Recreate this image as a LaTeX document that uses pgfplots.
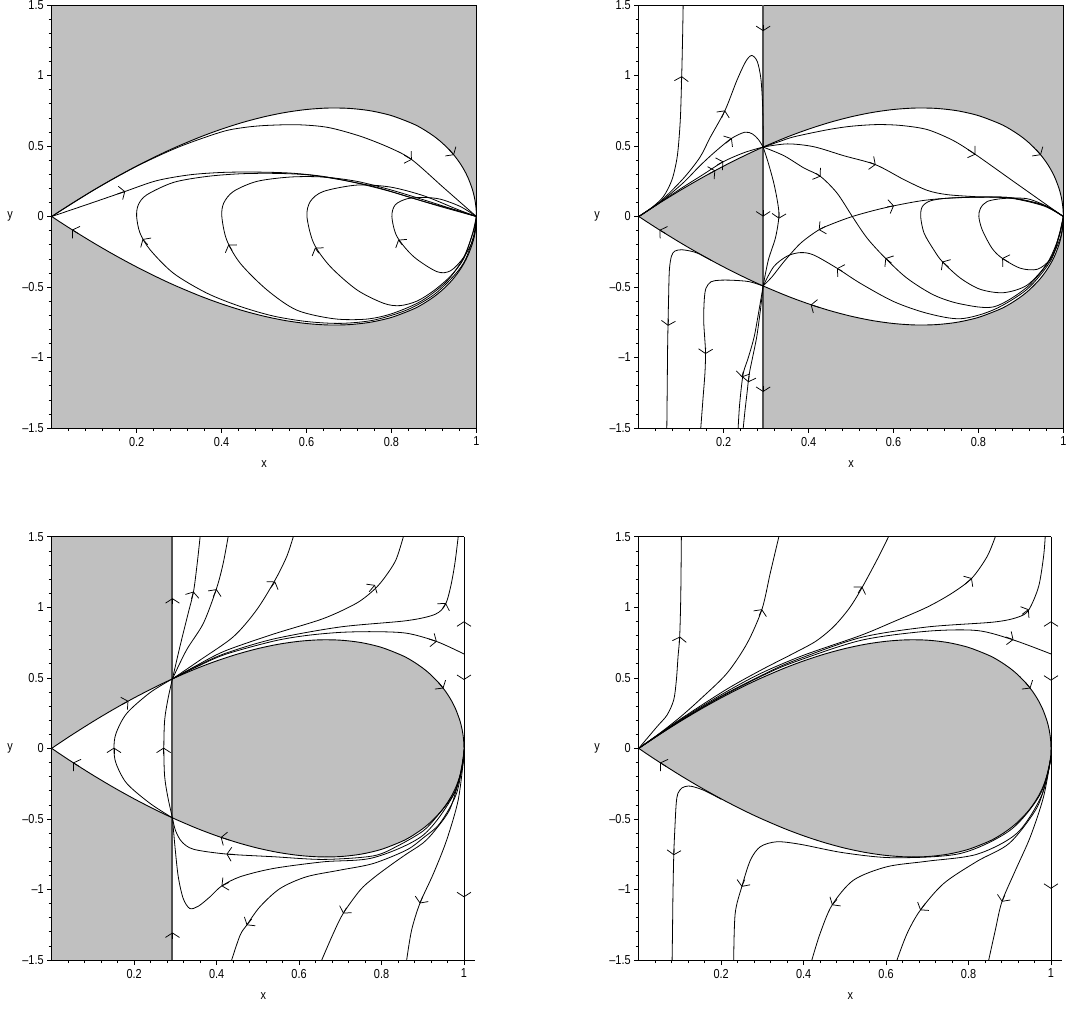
\documentclass[border=0pt]{standalone}
\usepackage{fontspec}
\setmainfont{Liberation Sans}[FakeStretch=0.84]
\usepackage{pgfplots}
\pgfplotsset{compat=1.18}
\usepackage{pgfplotstable}
\usetikzlibrary{arrows.meta}
\definecolor{mgray}{RGB}{192,192,192}
\definecolor{vgray}{RGB}{80,80,80}

\pgfplotstableread{
x y
0 0
0.01 0.0199
0.02 0.0396
0.05 0.0975
0.1 0.1897
0.15 0.2766
0.2 0.3578
0.25 0.4330
0.2929 0.4926
0.35 0.5644
0.4 0.6197
0.45 0.6675
0.5 0.7071
0.55 0.7379
0.6 0.7589
0.65 0.7691
0.7 0.7668
0.75 0.75
0.8 0.7155
0.85 0.6584
0.875 0.6187
0.9 0.5692
0.92 0.5204
0.94 0.4605
0.95 0.4249
0.96 0.384
0.97 0.336
0.98 0.2772
0.99 0.198
0.995 0.1407
0.998 0.0893
0.9995 0.0447
1 0
}\tdup

\pgfplotstableread{
x y
0 0
0.01 -0.0199
0.02 -0.0396
0.05 -0.0975
0.1 -0.1897
0.15 -0.2766
0.2 -0.3578
0.25 -0.4330
0.2929 -0.4926
0.35 -0.5644
0.4 -0.6197
0.45 -0.6675
0.5 -0.7071
0.55 -0.7379
0.6 -0.7589
0.65 -0.7691
0.7 -0.7668
0.75 -0.75
0.8 -0.7155
0.85 -0.6584
0.875 -0.6187
0.9 -0.5692
0.92 -0.5204
0.94 -0.4605
0.95 -0.4249
0.96 -0.384
0.97 -0.336
0.98 -0.2772
0.99 -0.198
0.995 -0.1407
0.998 -0.0893
0.9995 -0.0447
1 0
}\tdlo

\pgfplotstableread{
x y
0 0
0.02 0.0396
0.05 0.0975
0.1 0.1897
0.15 0.2766
0.2 0.3578
0.25 0.4330
0.2929 0.4926
0.35 0.5644
0.4 0.6197
0.45 0.6675
0.5 0.7071
0.55 0.7379
0.6 0.7589
0.65 0.7691
0.7 0.7668
0.75 0.75
0.8 0.7155
0.85 0.6584
0.875 0.6187
0.9 0.5692
0.92 0.5204
0.94 0.4605
0.95 0.4249
0.96 0.384
0.97 0.336
0.98 0.2772
0.99 0.198
0.995 0.1407
0.998 0.0893
0.9995 0.0447
1 0
0.9995 -0.0447
0.998 -0.0893
0.995 -0.1407
0.99 -0.198
0.98 -0.2772
0.97 -0.336
0.96 -0.384
0.95 -0.4249
0.94 -0.4605
0.92 -0.5204
0.9 -0.5692
0.875 -0.6187
0.85 -0.6584
0.8 -0.7155
0.75 -0.75
0.7 -0.7668
0.65 -0.7691
0.6 -0.7589
0.55 -0.7379
0.5 -0.7071
0.45 -0.6675
0.4 -0.6197
0.35 -0.5644
0.2929 -0.4926
0.25 -0.4330
0.2 -0.3578
0.15 -0.2766
0.1 -0.1897
0.05 -0.0975
0.02 -0.0396
}\tdloop

\pgfplotstableread{
x y
0 0
0.02 0.0396
0.05 0.0975
0.1 0.1897
0.15 0.2766
0.2 0.3578
0.25 0.4330
0.2929 0.4926
0.2929 -0.4926
0.25 -0.4330
0.2 -0.3578
0.15 -0.2766
0.1 -0.1897
0.05 -0.0975
0.02 -0.0396
}\tdleft

\pgfplotstableread{
x y
0.2929 0.4926
0.35 0.5644
0.4 0.6197
0.45 0.6675
0.5 0.7071
0.55 0.7379
0.6 0.7589
0.65 0.7691
0.7 0.7668
0.75 0.75
0.8 0.7155
0.85 0.6584
0.875 0.6187
0.9 0.5692
0.92 0.5204
0.94 0.4605
0.95 0.4249
0.96 0.384
0.97 0.336
0.98 0.2772
0.99 0.198
0.995 0.1407
0.998 0.0893
0.9995 0.0447
1 0
0.9995 -0.0447
0.998 -0.0893
0.995 -0.1407
0.99 -0.198
0.98 -0.2772
0.97 -0.336
0.96 -0.384
0.95 -0.4249
0.94 -0.4605
0.92 -0.5204
0.9 -0.5692
0.875 -0.6187
0.85 -0.6584
0.8 -0.7155
0.75 -0.75
0.7 -0.7668
0.65 -0.7691
0.6 -0.7589
0.55 -0.7379
0.5 -0.7071
0.45 -0.6675
0.4 -0.6197
0.35 -0.5644
0.2929 -0.4926
}\tdright

\pgfplotsset{
  panel/.style={
    scale only axis, clip=false,
    ymin=-1.5, ymax=1.5,
    axis x line*=bottom, axis y line*=left,
    axis line style={black, line width=0.7pt},
    xtick={0.2,0.4,0.6,0.8,1}, xticklabels={0.2,0.4,0.6,0.8,1},
    ytick={-1.5,-1,-0.5,0,0.5,1,1.5}, yticklabels={–1.5,–1,–0.5,0,0.5,1,1.5},
    minor xtick={0.04,0.08,0.12,0.16,0.24,0.28,0.32,0.36,0.44,0.48,0.52,0.56,0.64,0.68,0.72,0.76,0.84,0.88,0.92,0.96},
    minor ytick={-1.4,-1.3,-1.2,-1.1,-0.9,-0.8,-0.7,-0.6,-0.4,-0.3,-0.2,-0.1,0.1,0.2,0.3,0.4,0.6,0.7,0.8,0.9,1.1,1.2,1.3,1.4},
    tick align=outside, major tick length=4.5pt, minor tick length=3pt,
    tick style={black, line width=0.6pt},
    tick label style={font=\fontsize{13}{15}\selectfont},
    xticklabel style={yshift=-1pt},
  },
  tr/.style={black, line width=0.8pt, smooth},
  bd/.style={black, line width=0.9pt, smooth},
  ar/.style={black, line width=0.75pt, -{Straight Barb[length=4.5pt, width=14pt]}},
  vl/.style={vgray, line width=2pt},
}

\newcommand{\labs}{%
  \node[font=\fontsize{13}{15}\selectfont] at (axis description cs:0.5,-0.085) {x};
  \node[font=\fontsize{13}{15}\selectfont] at (axis description cs:-0.098,0.5) {y};
}

\begin{document}
\begin{tikzpicture}
\useasboundingbox (0pt,0pt) rectangle (1067pt,-1009pt);

% ================= Panel 1 =================
\begin{axis}[panel, at={(51.7pt,-428pt)}, anchor=south west, width=424.7pt, height=423pt, xmin=0, xmax=1]
\addplot[fill=mgray, draw=none] coordinates {(0,-1.5)(1,-1.5)(1,1.5)(0,1.5)};
\addplot[fill=white, draw=none] table {\tdloop};
\addplot[black, line width=0.7pt] coordinates {(0,1.5)(1,1.5)(1,-1.5)};
\addplot[bd] table {\tdup};
\addplot[bd] table {\tdlo};
% A
\addplot[tr] coordinates {(0,0)(0.1,0.189)(0.2,0.356)(0.3,0.494)(0.4,0.600)(0.45,0.630)(0.5,0.645)(0.577,0.651)(0.65,0.632)(0.727,0.569)(0.797,0.486)(0.848,0.403)(0.92,0.212)(0.96,0.106)(1,0)};
% B
\addplot[tr] coordinates {(0,0)(0.09,0.092)(0.173,0.178)(0.247,0.254)(0.326,0.296)(0.405,0.313)(0.483,0.315)(0.562,0.308)(0.640,0.284)(0.719,0.237)(0.797,0.178)(0.876,0.107)(0.954,0.043)(1,0)};
% C1
\addplot[tr] coordinates {(1,0)(0.994,-0.13)(0.975,-0.3)(0.95,-0.41)(0.9,-0.555)(0.837,-0.662)(0.758,-0.735)(0.680,-0.758)(0.601,-0.745)(0.522,-0.706)(0.444,-0.638)(0.365,-0.543)(0.287,-0.403)(0.232,-0.237)(0.208,-0.118)(0.2,0)(0.204,0.083)(0.224,0.154)(0.287,0.242)(0.365,0.284)(0.444,0.303)(0.522,0.306)(0.601,0.296)(0.680,0.261)(0.758,0.213)(0.837,0.142)(0.915,0.071)(1,0)};
% C2
\addplot[tr] coordinates {(1,0)(0.994,-0.095)(0.97,-0.29)(0.93,-0.46)(0.87,-0.6)(0.80,-0.69)(0.74,-0.728)(0.664,-0.725)(0.577,-0.664)(0.507,-0.521)(0.444,-0.332)(0.412,-0.166)(0.4006,0)(0.405,0.095)(0.428,0.178)(0.483,0.249)(0.562,0.280)(0.640,0.280)(0.719,0.249)(0.797,0.190)(0.876,0.118)(0.954,0.043)(1,0)};
% C3
\addplot[tr] coordinates {(1,0)(0.99,-0.13)(0.97,-0.3)(0.94,-0.42)(0.9,-0.525)(0.86,-0.6)(0.82,-0.632)(0.782,-0.616)(0.719,-0.521)(0.656,-0.355)(0.617,-0.190)(0.601,0)(0.609,0.107)(0.640,0.178)(0.719,0.223)(0.797,0.209)(0.876,0.147)(0.954,0.052)(1,0)};
% C4
\addplot[tr] coordinates {(1,0)(0.994,-0.15)(0.97,-0.29)(0.939,-0.385)(0.907,-0.391)(0.852,-0.284)(0.813,-0.142)(0.801,0)(0.809,0.083)(0.837,0.126)(0.876,0.135)(0.915,0.123)(0.962,0.071)(1,0)};
% arrows
\addplot[ar] coordinates {(0.062,-0.120)(0.048,-0.094)};
\addplot[ar] coordinates {(0.935,0.477)(0.947,0.436)};
\addplot[ar] coordinates {(0.83,0.435)(0.848,0.403)};
\addplot[ar] coordinates {(0.155,0.16)(0.173,0.178)};
\addplot[ar] coordinates {(0.226,-0.2)(0.214,-0.16)};
\addplot[ar] coordinates {(0.425,-0.24)(0.416,-0.2)};
\addplot[ar] coordinates {(0.629,-0.26)(0.62,-0.222)};
\addplot[ar] coordinates {(0.825,-0.2)(0.816,-0.165)};
\labs
\end{axis}

% ================= Panel 2 =================
\begin{axis}[panel, at={(638.8pt,-428pt)}, anchor=south west, width=424.5pt, height=423pt, xmin=0, xmax=1]
\addplot[fill=mgray, draw=none] coordinates {(0,-1.5)(1,-1.5)(1,1.5)(0,1.5)};
\addplot[fill=white, draw=none] coordinates {(0,-1.5)(0.2929,-1.5)(0.2929,1.5)(0,1.5)};
\addplot[fill=mgray, draw=none] table {\tdleft};
\addplot[fill=white, draw=none] table {\tdright};
\addplot[black, line width=0.7pt] coordinates {(0,1.5)(1,1.5)(1,-1.5)};
\addplot[vl] coordinates {(0.2929,-1.5)(0.2929,1.5)};
\addplot[bd] table {\tdup};
\addplot[bd] table {\tdlo};
% left region
\addplot[tr] coordinates {(0,0)(0.03,0.062)(0.0577,0.14)(0.0775,0.255)(0.088,0.38)(0.093,0.49)(0.098,0.7)(0.101,0.99)(0.103,1.25)(0.1045,1.5)};
\addplot[tr] coordinates {(0,0)(0.05,0.105)(0.105,0.27)(0.144,0.42)(0.168,0.56)(0.203,0.752)(0.231,0.965)(0.252,1.1)(0.266,1.142)(0.279,1.1)(0.2875,0.98)(0.2915,0.8)(0.293,0.6)(0.2929,0.4926)};
\addplot[tr] coordinates {(0,0)(0.05,0.1)(0.105,0.24)(0.144,0.36)(0.18,0.46)(0.219,0.555)(0.25,0.598)(0.268,0.585)(0.282,0.545)(0.2929,0.4926)};
\addplot[tr] coordinates {(0,0)(0.05,0.1)(0.1,0.2)(0.15,0.295)(0.2,0.39)(0.25,0.455)(0.2929,0.4926)};
\addplot[tr] coordinates {(0.2929,0.4926)(0.305,0.38)(0.318,0.237)(0.327,0.1)(0.33,0)(0.322,-0.15)(0.305,-0.31)(0.2929,-0.4926)};
\addplot[tr] coordinates {(0.17,-0.31)(0.14,-0.262)(0.12,-0.244)(0.1,-0.236)(0.085,-0.245)(0.077,-0.28)(0.072,-0.38)(0.07,-0.6)(0.068,-0.9)(0.067,-1.2)(0.066,-1.5)};
\addplot[tr] coordinates {(0.2929,-0.4926)(0.26,-0.462)(0.22,-0.452)(0.19,-0.452)(0.17,-0.463)(0.158,-0.51)(0.154,-0.6)(0.153,-0.75)(0.157,-0.95)(0.156,-1.1)(0.151,-1.3)(0.146,-1.5)};
\addplot[tr] coordinates {(0.2929,-0.4926)(0.284,-0.65)(0.272,-0.85)(0.258,-1.0)(0.247,-1.1)(0.242,-1.2)(0.237,-1.35)(0.234,-1.5)};
\addplot[tr] coordinates {(0.2929,-0.4926)(0.287,-0.65)(0.278,-0.85)(0.268,-1.0)(0.26,-1.12)(0.255,-1.25)(0.25,-1.38)(0.246,-1.5)};
% interior
\addplot[tr] coordinates {(0.2929,0.4926)(0.33,0.53)(0.365,0.565)(0.444,0.615)(0.5,0.64)(0.562,0.652)(0.62,0.645)(0.680,0.616)(0.74,0.54)(0.793,0.44)(0.876,0.263)(0.954,0.097)(1,0)};
\addplot[tr] coordinates {(0.2929,0.4926)(0.35,0.515)(0.412,0.495)(0.483,0.431)(0.558,0.367)(0.625,0.261)(0.680,0.185)(0.727,0.155)(0.797,0.14)(0.876,0.13)(0.954,0.075)(1,0)};
\addplot[tr] coordinates {(0.2929,0.4926)(0.342,0.431)(0.389,0.344)(0.428,0.284)(0.467,0.166)(0.503,0)(0.538,-0.154)(0.581,-0.296)(0.632,-0.438)(0.695,-0.557)(0.758,-0.62)(0.837,-0.64)(0.915,-0.5)(0.97,-0.3)(0.99,-0.13)(1,0)};
\addplot[tr] coordinates {(0.2929,-0.4926)(0.314,-0.427)(0.342,-0.32)(0.381,-0.19)(0.424,-0.095)(0.46,-0.047)(0.503,0)(0.554,0.043)(0.601,0.076)(0.664,0.111)(0.719,0.128)(0.797,0.137)(0.876,0.133)(0.954,0.08)(1,0)};
\addplot[tr] coordinates {(0.2929,-0.4926)(0.318,-0.355)(0.350,-0.280)(0.381,-0.256)(0.412,-0.273)(0.467,-0.367)(0.522,-0.474)(0.601,-0.604)(0.680,-0.687)(0.758,-0.725)(0.837,-0.66)(0.915,-0.515)(0.97,-0.315)(0.99,-0.14)(1,0)};
\addplot[tr] coordinates {(1,0)(0.99,-0.142)(0.962,-0.332)(0.915,-0.486)(0.86,-0.54)(0.805,-0.517)(0.758,-0.438)(0.715,-0.32)(0.695,-0.237)(0.672,-0.118)(0.664,0)(0.668,0.071)(0.687,0.111)(0.727,0.13)(0.797,0.137)(0.876,0.133)(0.954,0.08)(1,0)};
\addplot[tr] coordinates {(1,0)(0.994,-0.142)(0.970,-0.3)(0.939,-0.374)(0.899,-0.367)(0.856,-0.296)(0.832,-0.225)(0.809,-0.095)(0.801,0)(0.805,0.059)(0.821,0.107)(0.860,0.128)(0.915,0.126)(0.962,0.071)(1,0)};
% arrows
\addplot[ar] coordinates {(0.063,-0.121)(0.049,-0.095)};
\addplot[ar] coordinates {(0.425,-0.645)(0.405,-0.626)};
\addplot[ar] coordinates {(0.935,0.477)(0.947,0.436)};
\addplot[ar] coordinates {(0.775,0.475)(0.793,0.44)};
\addplot[ar] coordinates {(0.543,0.385)(0.558,0.367)};
\addplot[ar] coordinates {(0.418,0.305)(0.428,0.284)};
\addplot[ar] coordinates {(0.595,-0.33)(0.581,-0.296)};
\addplot[ar] coordinates {(0.44,-0.07)(0.424,-0.095)};
\addplot[ar] coordinates {(0.585,0.068)(0.601,0.076)};
\addplot[ar] coordinates {(0.48,-0.39)(0.467,-0.367)};
\addplot[ar] coordinates {(0.73,-0.36)(0.715,-0.32)};
\addplot[ar] coordinates {(0.872,-0.325)(0.856,-0.296)};
\addplot[ar] coordinates {(0.1,0.95)(0.101,0.995)};
\addplot[ar] coordinates {(0.195,0.70)(0.203,0.752)};
\addplot[ar] coordinates {(0.205,0.52)(0.219,0.555)};
\addplot[ar] coordinates {(0.185,0.366)(0.199,0.39)};
\addplot[ar] coordinates {(0.165,0.302)(0.18,0.326)};
\addplot[ar] coordinates {(0.07,-0.73)(0.069,-0.775)};
\addplot[ar] coordinates {(0.1575,-0.93)(0.157,-0.975)};
\addplot[ar] coordinates {(0.246,-1.1)(0.243,-1.14)};
\addplot[ar] coordinates {(0.26,-1.13)(0.258,-1.175)};
\addplot[ar] coordinates {(0.3305,0.03)(0.33,-0.015)};
\addplot[ar] coordinates {(0.2929,1.36)(0.2929,1.315)};
\addplot[ar] coordinates {(0.2929,0.045)(0.2929,0)};
\addplot[ar] coordinates {(0.2929,-1.2)(0.2929,-1.244)};
\labs
\end{axis}

% ================= Panel 3 =================
\begin{axis}[panel, at={(51.7pt,-960pt)}, anchor=south west, width=423.4pt, height=423.3pt, xmin=0, xmax=1.027]
\addplot[fill=mgray, draw=none] coordinates {(0,-1.5)(0.2929,-1.5)(0.2929,1.5)(0,1.5)};
\addplot[fill=white, draw=none] table {\tdleft};
\addplot[fill=mgray, draw=none] table {\tdright};
\addplot[black, line width=0.7pt] coordinates {(0,1.5)(1,1.5)};
\addplot[black, line width=0.8pt] coordinates {(1,1.5)(1,-1.5)};
\addplot[vl] coordinates {(0.2929,-1.5)(0.2929,1.5)};
\addplot[bd] table {\tdup};
\addplot[bd] table {\tdlo};
\addplot[tr] coordinates {(0.2929,-0.4926)(0.2385,-0.390)(0.182,-0.248)(0.156,-0.106)(0.151,0)(0.156,0.106)(0.182,0.248)(0.2385,0.395)(0.2929,0.4926)};
\addplot[tr] coordinates {(0.2929,-0.4926)(0.282,-0.35)(0.274,-0.2)(0.272,0)(0.274,0.2)(0.282,0.35)(0.2929,0.4926)};
\addplot[tr] coordinates {(0.2929,0.4926)(0.311,0.721)(0.331,0.957)(0.344,1.111)(0.353,1.312)(0.36,1.5)};
\addplot[tr] coordinates {(0.2929,0.4926)(0.327,0.697)(0.368,0.887)(0.4,1.135)(0.416,1.312)(0.428,1.5)};
\addplot[tr] coordinates {(0.2929,0.4926)(0.36,0.626)(0.441,0.792)(0.497,0.981)(0.542,1.194)(0.57,1.359)(0.586,1.5)};
\addplot[tr] coordinates {(0.2929,0.4926)(0.35,0.585)(0.42,0.69)(0.538,0.81)(0.659,0.92)(0.74,1.03)(0.784,1.13)(0.81,1.22)(0.835,1.336)(0.853,1.5)};
\addplot[tr] coordinates {(0.2929,0.4926)(0.35,0.58)(0.42,0.672)(0.538,0.775)(0.699,0.86)(0.861,0.905)(0.93,0.95)(0.955,1.02)(0.968,1.15)(0.978,1.312)(0.986,1.5)};
\addplot[tr] coordinates {(0.2929,0.4926)(0.35,0.575)(0.42,0.665)(0.538,0.76)(0.618,0.80)(0.70,0.822)(0.78,0.827)(0.861,0.816)(0.934,0.757)(1,0.669)};
\addplot[tr] coordinates {(0.2929,-0.4926)(0.3,-0.58)(0.315,-0.66)(0.344,-0.715)(0.424,-0.749)(0.538,-0.768)(0.659,-0.787)(0.78,-0.762)(0.84,-0.69)(0.901,-0.585)(0.935,-0.48)(0.974,-0.33)(0.994,-0.16)(1,-0.01)};
\addplot[tr] coordinates {(0.2929,-0.4926)(0.299,-0.697)(0.307,-0.910)(0.319,-1.064)(0.335,-1.135)(0.356,-1.118)(0.384,-1.052)(0.412,-0.976)(0.457,-0.910)(0.538,-0.851)(0.659,-0.804)(0.78,-0.775)(0.901,-0.615)(0.978,-0.31)(1,-0.02)};
\addplot[tr] coordinates {(1,-0.05)(0.982,-0.319)(0.942,-0.53)(0.901,-0.635)(0.861,-0.72)(0.78,-0.816)(0.699,-0.863)(0.618,-0.910)(0.554,-0.993)(0.505,-1.123)(0.473,-1.253)(0.457,-1.324)(0.4365,-1.5)};
\addplot[tr] coordinates {(1,-0.05)(0.99,-0.2)(0.966,-0.43)(0.93,-0.58)(0.901,-0.67)(0.86,-0.75)(0.821,-0.83)(0.78,-0.92)(0.748,-1.005)(0.707,-1.17)(0.683,-1.312)(0.655,-1.5)};
\addplot[tr] coordinates {(1,-0.05)(0.986,-0.366)(0.958,-0.650)(0.926,-0.887)(0.893,-1.099)(0.873,-1.288)(0.861,-1.5)};
% arrows
\addplot[ar] coordinates {(0.066,-0.127)(0.052,-0.101)};
\addplot[ar] coordinates {(0.17,0.31)(0.186,0.3356)};
\addplot[ar] coordinates {(0.938,0.467)(0.95,0.425)};
\addplot[ar] coordinates {(0.43,-0.649)(0.41,-0.63)};
\addplot[ar] coordinates {(0.445,-0.752)(0.424,-0.749)};
\addplot[ar] coordinates {(0.43,-0.95)(0.412,-0.976)};
\addplot[ar] coordinates {(0.485,-1.21)(0.473,-1.253)};
\addplot[ar] coordinates {(0.715,-1.13)(0.707,-1.17)};
\addplot[ar] coordinates {(0.9,-1.05)(0.893,-1.099)};
\addplot[ar] coordinates {(0.151,-0.04)(0.151,0.005)};
\addplot[ar] coordinates {(0.2715,-0.04)(0.2715,0.005)};
\addplot[ar] coordinates {(0.339,1.06)(0.344,1.111)};
\addplot[ar] coordinates {(0.392,1.075)(0.4,1.128)};
\addplot[ar] coordinates {(0.532,1.14)(0.542,1.182)};
\addplot[ar] coordinates {(0.77,1.11)(0.784,1.158)};
\addplot[ar] coordinates {(0.948,0.99)(0.956,1.03)};
\addplot[ar] coordinates {(0.915,0.775)(0.934,0.757)};
\addplot[ar] coordinates {(0.2929,1.02)(0.2929,1.064)};
\addplot[ar] coordinates {(0.2929,-1.35)(0.2929,-1.305)};
\addplot[ar] coordinates {(1,0.855)(1,0.9)};
\addplot[ar] coordinates {(1,0.53)(1,0.485)};
\addplot[ar] coordinates {(1,-1.01)(1,-1.055)};
\labs
\end{axis}

% ================= Panel 4 =================
\begin{axis}[panel, at={(638.7pt,-960pt)}, anchor=south west, width=423.4pt, height=423.3pt, xmin=0, xmax=1.027]
\addplot[fill=mgray, draw=none] table {\tdloop};
\addplot[black, line width=0.7pt] coordinates {(0,1.5)(1,1.5)};
\addplot[black, line width=0.8pt] coordinates {(1,1.5)(1,-1.5)};
\addplot[bd] table {\tdup};
\addplot[bd] table {\tdlo};
\addplot[tr] coordinates {(0,0)(0.0445,0.154)(0.0687,0.236)(0.0849,0.343)(0.0914,0.485)(0.0954,0.650)(0.0994,0.792)(0.102,1.076)(0.1035,1.5)};
\addplot[tr] coordinates {(0,0)(0.05,0.105)(0.1,0.22)(0.15,0.35)(0.214,0.532)(0.263,0.745)(0.299,0.986)(0.319,1.241)(0.34,1.5)};
\addplot[tr] coordinates {(0,0)(0.1,0.205)(0.214,0.42)(0.3,0.56)(0.376,0.674)(0.43,0.76)(0.473,0.863)(0.51,0.99)(0.538,1.12)(0.578,1.336)(0.606,1.5)};
\addplot[tr] coordinates {(0,0)(0.1,0.2)(0.2,0.38)(0.295,0.53)(0.4,0.66)(0.538,0.80)(0.62,0.9)(0.699,1.0)(0.76,1.1)(0.808,1.206)(0.845,1.359)(0.865,1.5)};
\addplot[tr] coordinates {(0,0)(0.1,0.195)(0.2,0.37)(0.3,0.52)(0.376,0.62)(0.538,0.785)(0.699,0.86)(0.861,0.895)(0.92,0.93)(0.946,0.981)(0.97,1.147)(0.982,1.359)(0.986,1.5)};
\addplot[tr] coordinates {(0,0)(0.1,0.193)(0.2,0.365)(0.3,0.515)(0.376,0.61)(0.538,0.765)(0.699,0.83)(0.821,0.835)(0.909,0.768)(1,0.669)};
\addplot[tr] coordinates {(0.2,-0.36)(0.16,-0.3)(0.135,-0.274)(0.12,-0.267)(0.105,-0.28)(0.095,-0.32)(0.091,-0.39)(0.088,-0.55)(0.085,-0.757)(0.083,-1.05)(0.082,-1.3)(0.081,-1.5)};
\addplot[tr] coordinates {(1,-0.06)(0.974,-0.325)(0.901,-0.58)(0.78,-0.745)(0.618,-0.775)(0.497,-0.74)(0.392,-0.68)(0.335,-0.662)(0.295,-0.697)(0.271,-0.792)(0.25,-0.981)(0.234,-1.17)(0.2304,-1.5)};
\addplot[tr] coordinates {(1,-0.06)(0.978,-0.33)(0.918,-0.6)(0.821,-0.75)(0.699,-0.8)(0.602,-0.839)(0.521,-0.934)(0.469,-1.111)(0.44,-1.312)(0.42,-1.5)};
\addplot[tr] coordinates {(1,-0.06)(0.99,-0.2)(0.966,-0.42)(0.9,-0.67)(0.821,-0.8)(0.74,-0.957)(0.683,-1.147)(0.651,-1.312)(0.6265,-1.5)};
\addplot[tr] coordinates {(1,-0.06)(0.982,-0.343)(0.95,-0.626)(0.914,-0.863)(0.881,-1.087)(0.865,-1.288)(0.849,-1.5)};
% arrows
\addplot[ar] coordinates {(0.066,-0.127)(0.052,-0.101)};
\addplot[ar] coordinates {(0.938,0.467)(0.95,0.425)};
\addplot[ar] coordinates {(0.098,0.745)(0.1,0.792)};
\addplot[ar] coordinates {(0.292,0.94)(0.299,0.986)};
\addplot[ar] coordinates {(0.532,1.1)(0.542,1.147)};
\addplot[ar] coordinates {(0.792,1.165)(0.808,1.206)};
\addplot[ar] coordinates {(0.93,0.95)(0.946,0.985)};
\addplot[ar] coordinates {(0.89,0.79)(0.909,0.77)};
\addplot[ar] coordinates {(0.086,-0.71)(0.085,-0.757)};
\addplot[ar] coordinates {(0.257,-0.93)(0.25,-0.981)};
\addplot[ar] coordinates {(0.481,-1.07)(0.469,-1.111)};
\addplot[ar] coordinates {(0.695,-1.1)(0.683,-1.147)};
\addplot[ar] coordinates {(0.888,-1.04)(0.881,-1.087)};
\addplot[ar] coordinates {(1,0.855)(1,0.9)};
\addplot[ar] coordinates {(1,0.525)(1,0.48)};
\addplot[ar] coordinates {(1,-0.95)(1,-0.995)};
\labs
\end{axis}
\end{tikzpicture}
\end{document}
